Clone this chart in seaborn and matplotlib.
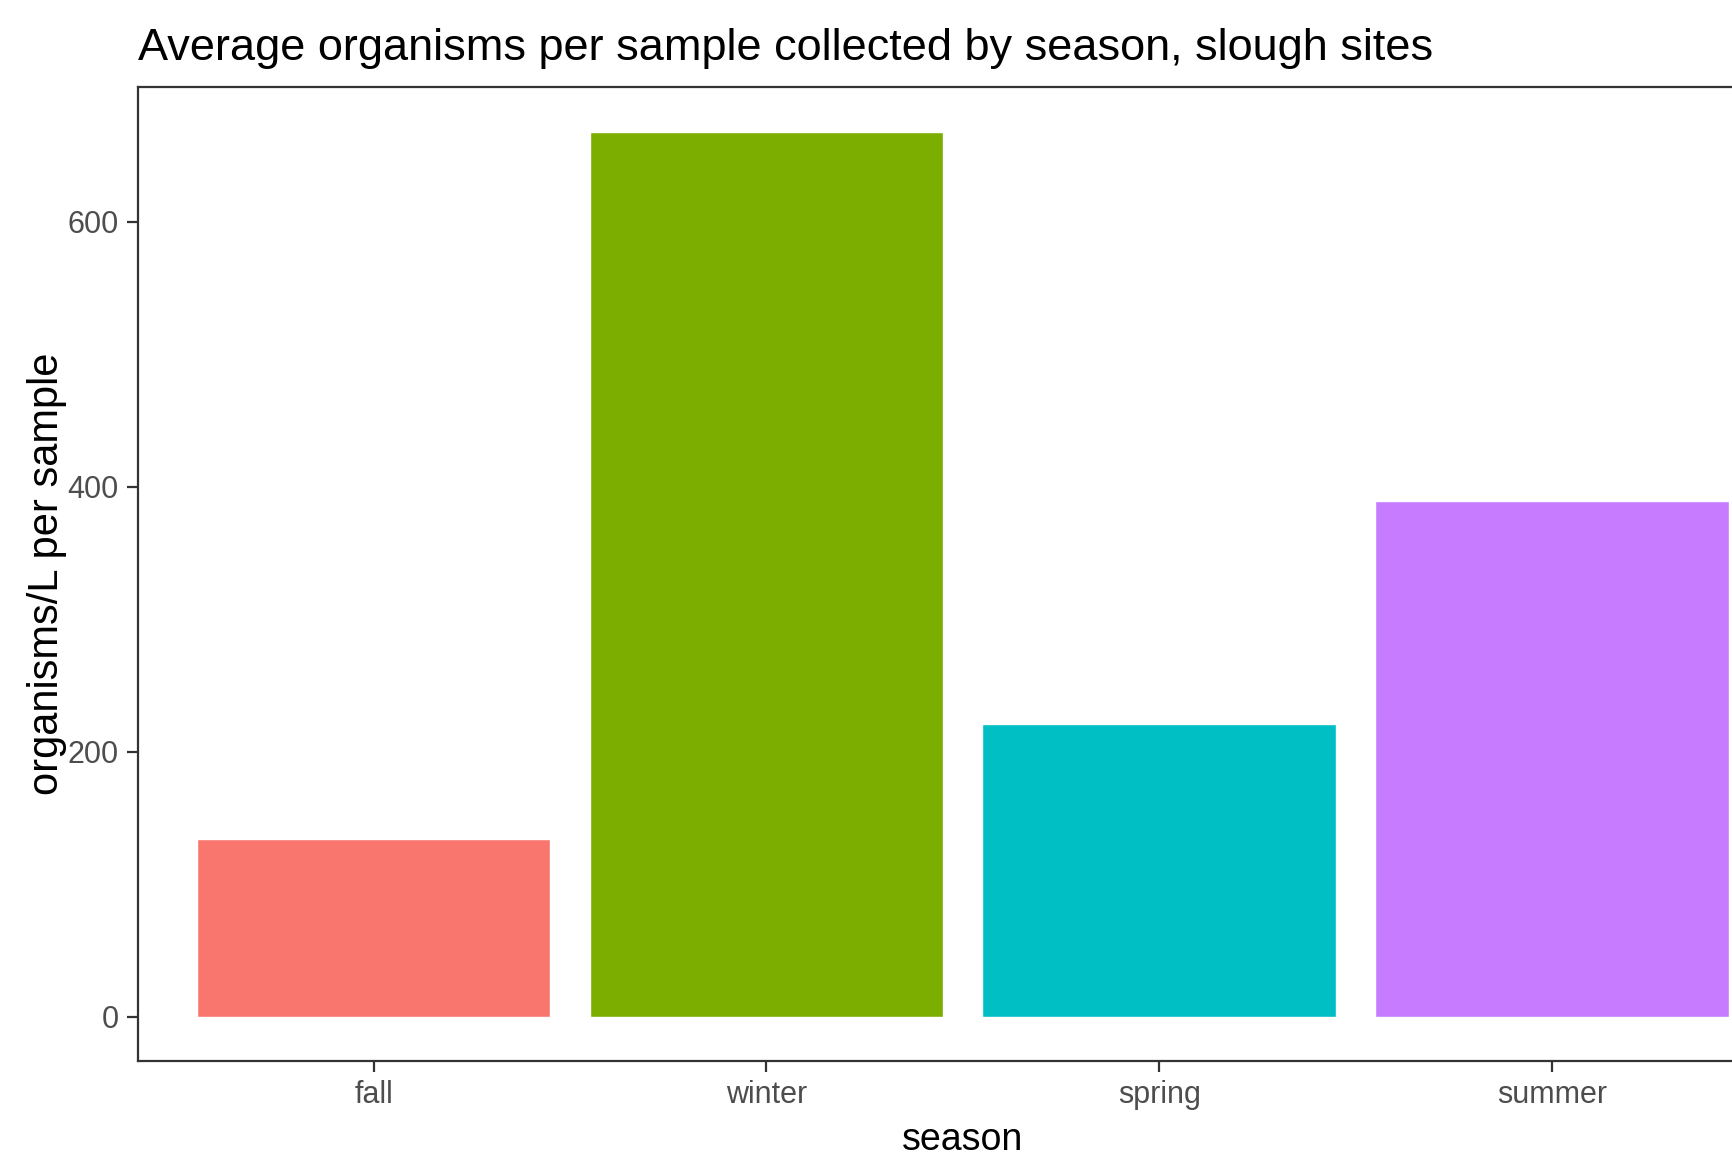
import pandas as pd
import matplotlib.pyplot as plt
import seaborn as sns

# data
seasons = ["fall", "winter", "spring", "summer"]
organisms = [134, 668, 221, 389]
colors = ["#F8766D", "#7CAE00", "#00BFC4", "#C77CFF"]

df = pd.DataFrame({"season": seasons, "organisms": organisms})

sns.set_style("white")
plt.rcParams["font.family"] = ["Liberation Sans", "DejaVu Sans"]

fig = plt.figure(figsize=(17.33, 11.55), dpi=100)
# axes runs past the right edge, like the cropped original
ax = fig.add_axes([0.0796, 0.0814, 0.952, 0.843])

sns.barplot(
    data=df,
    x="season",
    y="organisms",
    hue="season",
    palette=colors,
    order=seasons,
    width=0.9,
    legend=False,
    saturation=1,
    ax=ax
)

ax.set_xlim(-0.6, 3.6)
ax.set_ylim(-33.4, 701.4)
ax.set_yticks([0, 200, 400, 600])

for s in ax.spines.values():
    s.set_visible(True)
    s.set_color("#333333")
    s.set_linewidth(1.6)

ax.tick_params(axis="both", length=8, width=1.6, color="#333333",
               labelsize=22, labelcolor="#4D4D4D", pad=6, left=True, bottom=True)

ax.set_xlabel("season", fontsize=27, color="black", labelpad=8)
ax.set_ylabel("organisms/L per sample", fontsize=30, color="black", labelpad=0)

fig.text(0.0796, 0.958, "Average organisms per sample collected by season, slough sites",
         fontsize=32.5, ha="left", va="center", color="black")

plt.savefig("out.png", dpi=100)
